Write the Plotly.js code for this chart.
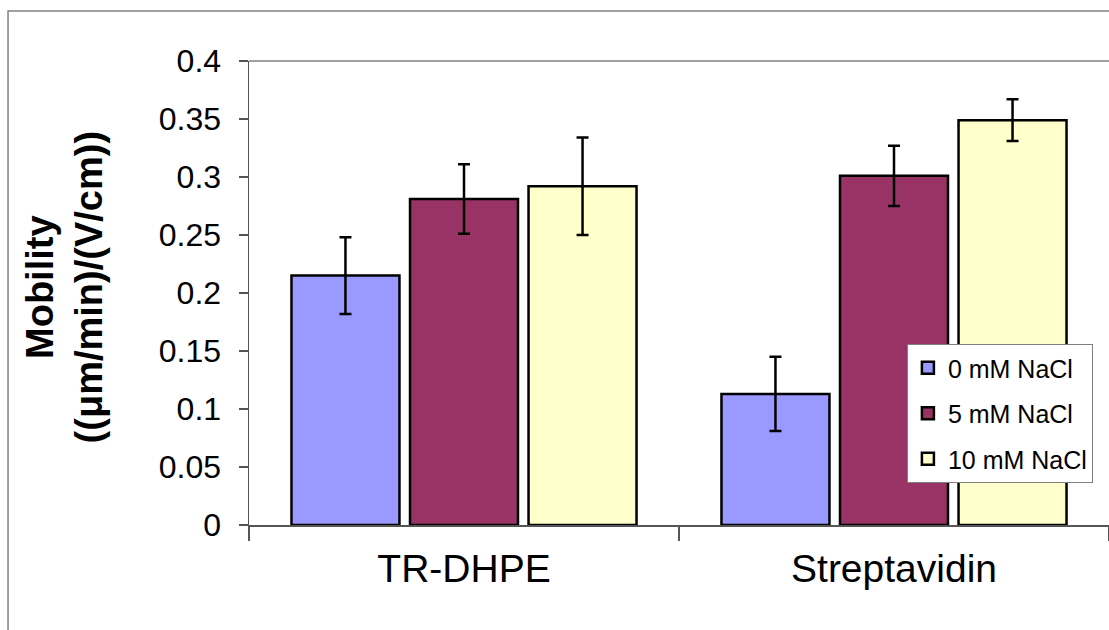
<!DOCTYPE html>
<html>
<head>
<meta charset="utf-8">
<script src="https://cdn.plot.ly/plotly-3.0.1.min.js"></script>
<style>html,body{margin:0;padding:0;background:#fff;}#chart{width:1109px;height:630px;}</style>
</head>
<body>
<div id="chart"></div>
<script>
var categories = ["TR-DHPE", "Streptavidin"];
var seriesNames = ["0 mM NaCl", "5 mM NaCl", "10 mM NaCl"];
var values0 = [0.215, 0.113];
var values5 = [0.281, 0.301];
var values10 = [0.292, 0.349];
var err0 = [0.033, 0.032];
var err5 = [0.030, 0.026];
var err10 = [0.042, 0.018];
var yTickVals = [0, 0.05, 0.1, 0.15, 0.2, 0.25, 0.3, 0.35, 0.4];
var yTickText = ["0", "0.05", "0.1", "0.15", "0.2", "0.25", "0.3", "0.35", "0.4"];

var colors = ["#9999FF", "#993366", "#FFFFCC"];
var allValues = [values0, values5, values10];
var allErr = [err0, err5, err10];

var traces = seriesNames.map(function(name, i){
  return {
    type: "bar",
    name: name,
    x: categories,
    y: allValues[i],
    legendgroup: "g" + i,
    marker: {color: colors[i], line: {color: "#000", width: 2.5}},
    error_y: {type: "data", array: allErr[i], visible: true, color: "#000", thickness: 2.5, width: 6}
  };
});

var layout = {
  width: 1109, height: 630,
  margin: {l: 249, r: 0, t: 61, b: 105, pad: 0},
  paper_bgcolor: "#fff", plot_bgcolor: "#fff",
  font: {family: "Arial, 'Liberation Sans', sans-serif", color: "#000"},
  barmode: "group", bargap: 0.173, bargroupgap: 0.089,
  showlegend: true,
  legend: {x: 0.765, y: 0.39, xanchor: "left", yanchor: "top",
    bgcolor: "#fff", bordercolor: "#808080", borderwidth: 1,
    font: {size: 25, family: "Arial, 'Liberation Sans', sans-serif"},
    tracegroupgap: 10, traceorder: "grouped"},
  xaxis: {type: "category", range: [-0.5, 1.5], showline: true, linecolor: "#555", linewidth: 1.5,
    ticks: "outside", tickson: "boundaries", ticklen: 14, tickcolor: "#555", tickwidth: 1.5,
    showgrid: false, zeroline: false, ticklabelstandoff: 9,
    tickfont: {size: 39}},
  yaxis: {range: [0, 0.4], tickvals: yTickVals, ticktext: yTickText, showline: true, linecolor: "#555", linewidth: 1.5,
    ticks: "outside", ticklen: 9, tickcolor: "#555", tickwidth: 1.5, showgrid: false, zeroline: false,
    ticklabelstandoff: 11, tickfont: {size: 32}},
  shapes: [
    {type: "rect", xref: "paper", yref: "paper", x0: -0.2802, x1: 1.05, y0: -0.6, y1: 1.1078,
      line: {color: "#808080", width: 1.5}, fillcolor: "rgba(0,0,0,0)", layer: "below"},
    {type: "line", xref: "paper", yref: "paper", x0: 0, x1: 1, y0: 1, y1: 1,
      line: {color: "#808080", width: 1.5}, layer: "below"}
  ],
  annotations: [
    {xref: "paper", yref: "paper", x: -0.2145, y: 0.511, xanchor: "center", yanchor: "middle",
      textangle: -90, showarrow: false, text: "<b>Mobility<br>((μm/min)/(V/cm))</b>",
      font: {size: 38, family: "Arial, 'Liberation Sans', sans-serif"}}
  ]
};

Plotly.newPlot("chart", traces, layout, {staticPlot: true, displayModeBar: false});
</script>
</body>
</html>
